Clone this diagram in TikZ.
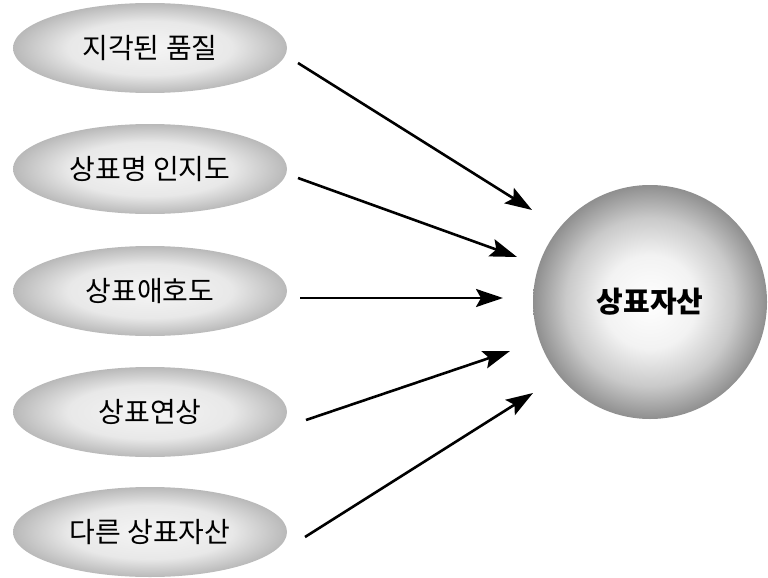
\documentclass[tikz,border=0pt]{standalone}
\usepackage{fontspec}
\newfontfamily\kr{Noto Sans CJK KR}
\usetikzlibrary{arrows.meta,shapes.geometric}
\pgfdeclareradialshading{ballshade}{\pgfpoint{0bp}{0bp}}{color(0bp)=(white); color(10bp)=(gray!10); color(18bp)=(gray!42); color(25bp)=(gray!88); color(50bp)=(gray!88)}
\pgfdeclareradialshading{ellshade}{\pgfpoint{0bp}{0bp}}{color(0bp)=(gray!8); color(15bp)=(gray!18); color(25bp)=(gray!55); color(50bp)=(gray!55)}
\begin{document}
\begin{tikzpicture}[x=1pt,y=-1pt,
  ell/.style={ellipse, minimum width=274pt, minimum height=90pt, inner sep=0pt,
    shading=ellshade, font=\kr\fontsize{28}{32}\selectfont},
  ball/.style={circle, minimum size=234pt, inner sep=0pt,
    shading=ballshade, font=\kr\bfseries\fontsize{29}{33}\selectfont},
  link/.style={line width=2.6pt, -{Stealth[length=27pt,width=18pt,inset=5pt]}}]
\useasboundingbox (0,0) rectangle (768,578);
\node[ell] (e1) at (150,48) {지각된 품질};
\node[ell] (e2) at (150,169) {상표명 인지도};
\node[ell] (e3) at (150,291) {상표애호도};
\node[ell] (e4) at (150,412) {상표연상};
\node[ell] (e5) at (150,532) {다른 상표자산};
\node[ball] (c) at (650,302) {상표자산};
\coordinate (s1) at (298,63);  \coordinate (t1) at (532,210);
\coordinate (s2) at (298,178); \coordinate (t2) at (517,257);
\coordinate (s3) at (300,298); \coordinate (t3) at (503,298);
\coordinate (s4) at (306,420); \coordinate (t4) at (510,351);
\coordinate (s5) at (305,537); \coordinate (t5) at (533,393);
\draw[link] (s1) -- (t1);
\draw[link] (s2) -- (t2);
\draw[link] (s3) -- (t3);
\draw[link] (s4) -- (t4);
\draw[link] (s5) -- (t5);
\end{tikzpicture}
\end{document}
